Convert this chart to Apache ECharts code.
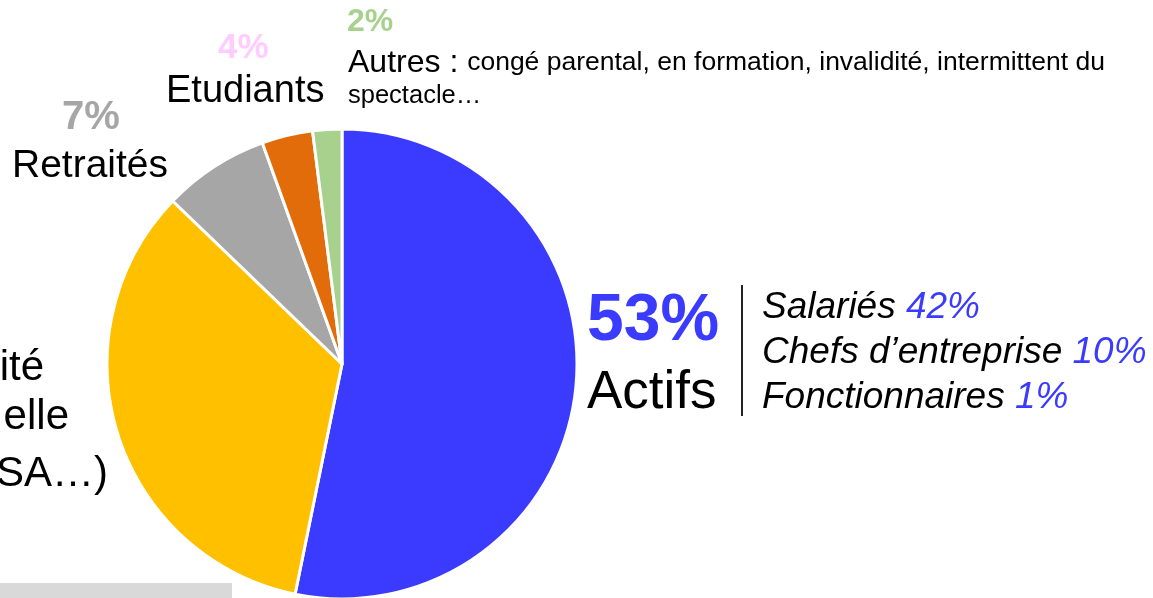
<!DOCTYPE html>
<html>
<head>
<meta charset="utf-8">
<script src="https://cdn.jsdelivr.net/npm/echarts@6/dist/echarts.min.js"></script>
<style>
  html, body { margin: 0; padding: 0; background: #fff; }
  #chart { width: 1153px; height: 598px; }
</style>
</head>
<body>
<div id="chart"></div>
<script>
// parts (share of the pie, %)
var categories = ['Actifs', 'Sans activité professionnelle', 'Retraités', 'Etudiants', 'Autres'];
var shares = [53.2, 34, 7.3, 3.5, 2];
var sliceColors = ['#3b3bff', '#ffc000', '#a6a6a6', '#e36c0a', '#a9d18e'];
var pctLabels = ['53%', '', '7%', '4%', '2%'];

// detail of the actifs
var actifNames = ['Salariés', 'Chefs d\u2019entreprise', 'Fonctionnaires'];
var actifPcts = ['42%', '10%', '1%'];

var font = '"Liberation Sans", Arial, sans-serif';
var chart = echarts.init(document.getElementById('chart'));

var pieData = [];
for (var i = 0; i < categories.length; i++) {
    pieData.push({ name: categories[i], value: shares[i], itemStyle: { color: sliceColors[i] } });
}

// textes autour du camembert
var texts = [];
function addText(x, y, txt, size, color, opts) {
    opts = opts || {};
    texts.push({
        type: 'text', left: x, top: y, silent: true,
        style: {
            text: txt,
            font: (opts.style || 'normal') + ' ' + (opts.weight || 'normal') + ' ' + size + 'px ' + font,
            fill: color,
            textAlign: 'left',
            textVerticalAlign: 'top'
        }
    });
}

addText(347, 6, pctLabels[4], 32, sliceColors[4], { weight: 'bold' });
addText(218, 31, pctLabels[3], 35, '#ffccff', { weight: 'bold' });
addText(62, 98, pctLabels[2], 40, sliceColors[2], { weight: 'bold' });

addText(166, 73, categories[3], 38, '#000');
addText(12, 147, categories[2], 39, '#000');

texts.push({
    type: 'text', left: 348, top: 47, silent: true,
    style: {
        text: '{a|Autres : }{b|congé parental, en formation, invalidité, intermittent du}',
        rich: {
            a: { font: '32px ' + font, fill: '#000' },
            b: { font: '26.5px ' + font, fill: '#000' }
        }
    }
});
addText(348, 83, 'spectacle\u2026', 25.5, '#000');

// libellé coupé par le bord gauche : seule la fin des lignes est visible
var leftHidden = ['Sans activ', 'professionn', '(chômeurs, R'];
var leftShown = ['ité', 'elle', 'SA\u2026)'];
var leftEnds = [44, 69, 108];
var leftTops = [347, 396, 453];
for (var k = 0; k < leftShown.length; k++) {
    texts.push({
        type: 'text', x: leftEnds[k], y: leftTops[k], silent: true,
        style: {
            text: '{h|' + leftHidden[k] + '}{v|' + leftShown[k] + '}',
            textAlign: 'right', textVerticalAlign: 'top',
            rich: {
                h: { font: '42px ' + font, fill: 'rgba(0,0,0,0)' },
                v: { font: '42px ' + font, fill: '#000' }
            }
        }
    });
}

addText(587, 289, pctLabels[0], 66, sliceColors[0], { weight: 'bold' });
addText(587, 367, categories[0], 53, '#000');

texts.push({ type: 'line', silent: true, shape: { x1: 742, y1: 285, x2: 742, y2: 416 }, style: { stroke: '#222', lineWidth: 2 } });

for (var j = 0; j < actifNames.length; j++) {
    texts.push({
        type: 'text', left: 762, top: 289 + j * 45, silent: true,
        style: {
            text: '{n|' + actifNames[j] + ' }{p|' + actifPcts[j] + '}',
            rich: {
                n: { font: 'italic 37px ' + font, fill: '#000' },
                p: { font: 'italic 37px ' + font, fill: sliceColors[0] }
            }
        }
    });
}

texts.push({ type: 'rect', silent: true, shape: { x: 0, y: 583, width: 232, height: 15 }, style: { fill: '#d9d9d9' } });

var option = {
    backgroundColor: '#fff',
    animation: false,
    series: [{
        type: 'pie',
        center: [342, 364],
        radius: 235,
        startAngle: 90,
        clockwise: true,
        label: { show: false },
        labelLine: { show: false },
        itemStyle: { borderColor: '#fff', borderWidth: 3 },
        data: pieData
    }],
    graphic: texts
};
chart.setOption(option);
</script>
</body>
</html>
